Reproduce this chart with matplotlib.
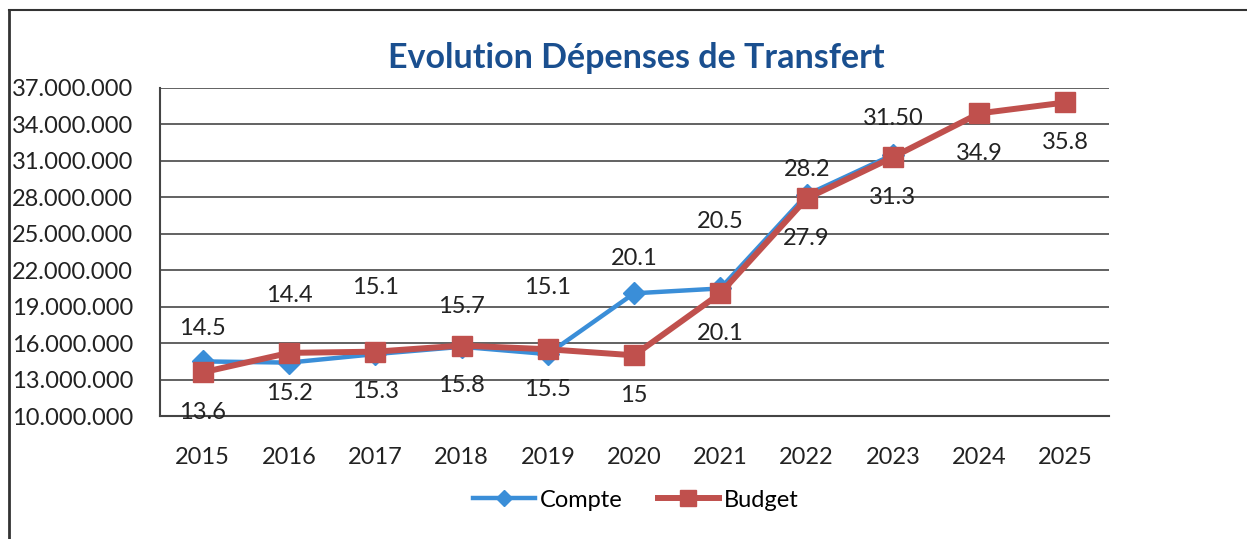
import matplotlib.pyplot as plt
from matplotlib.lines import Line2D
from matplotlib.ticker import FuncFormatter

plt.rcParams['font.family'] = ['Lato', 'DejaVu Sans']

years = ['2015', '2016', '2017', '2018', '2019', '2020', '2021', '2022', '2023', '2024', '2025']
compte = [14.5, 14.4, 15.1, 15.7, 15.1, 20.1, 20.5, 28.2, 31.5]
budget = [13.6, 15.2, 15.3, 15.8, 15.5, 15.0, 20.1, 27.9, 31.3, 34.9, 35.8]
compte_labels = ['14.5', '14.4', '15.1', '15.7', '15.1', '20.1', '20.5', '28.2', '31.50']
budget_labels = ['13.6', '15.2', '15.3', '15.8', '15.5', '15', '20.1', '27.9', '31.3', '34.9', '35.8']
yticks = [10e6, 13e6, 16e6, 19e6, 22e6, 25e6, 28e6, 31e6, 34e6, 37e6]

# label offsets (points) as placed in the original
compte_off = [24, 48, 48, 29, 48, 25, 48, 18, 26]
budget_off = 29

BLUE = '#3a8ed8'
RED = '#c0504d'

fig = plt.figure(figsize=(12.47, 5.39), dpi=100)
ax = fig.add_axes([0.128, 0.228, 0.761, 0.609])

xc = range(len(compte))
xb = range(len(budget))
ax.plot(xc, [v * 1e6 for v in compte], color=BLUE, lw=3.2, marker='D', ms=11,
        label='Compte', zorder=3)
ax.plot(xb, [v * 1e6 for v in budget], color=RED, lw=4.3, marker='s', ms=15,
        mec=RED, label='Budget', zorder=4)

for i, (v, t) in enumerate(zip(compte, compte_labels)):
    ax.annotate(t, (i, v * 1e6), xytext=(0, compte_off[i]), textcoords='offset points',
                ha='center', va='center', fontsize=17, color='#222222', zorder=5)
for i, (v, t) in enumerate(zip(budget, budget_labels)):
    ax.annotate(t, (i, v * 1e6), xytext=(0, -budget_off), textcoords='offset points',
                ha='center', va='center', fontsize=17, color='#222222', zorder=5)

ax.set_xlim(-0.5, len(years) - 0.5)
ax.set_ylim(10e6, 37e6)
ax.set_yticks(yticks)
ax.yaxis.set_major_formatter(FuncFormatter(lambda v, p: f'{int(v):,}'.replace(',', '.')))
ax.set_xticks(range(len(years)))
ax.set_xticklabels(years)
ax.tick_params(axis='both', labelsize=17, length=0, colors='#222222')
ax.tick_params(axis='x', pad=22)
ax.tick_params(axis='y', pad=19)
ax.grid(axis='y', color='#555555', lw=1.3)
ax.set_axisbelow(True)
for s in ['top', 'right']:
    ax.spines[s].set_visible(False)
for s in ['left', 'bottom']:
    ax.spines[s].set_color('#444444')
    ax.spines[s].set_linewidth(1.5)

fig.text(0.51, 0.893, 'Evolution Dépenses de Transfert', ha='center', va='center',
         fontsize=24.5, fontweight='bold', color='#1a4f8f')

fig.legend(loc='center', bbox_to_anchor=(0.51, 0.072), ncol=2, frameon=False,
           fontsize=17, handlelength=2.6, columnspacing=1.5, handletextpad=0.2,
           markerscale=0.75)

# outer chart frame (top and left edges visible in the scan)
fig.lines.append(Line2D([0.007, 1.0], [0.981, 0.981], transform=fig.transFigure,
                        color='#333333', lw=1.5))
fig.lines.append(Line2D([0.007, 0.007], [0.0, 0.981], transform=fig.transFigure,
                        color='#333333', lw=2))

fig.savefig('out.png', dpi=100, facecolor='white')
